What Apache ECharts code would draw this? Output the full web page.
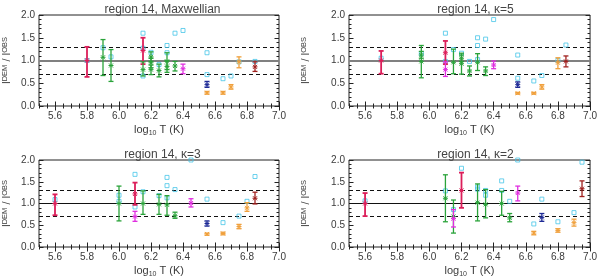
<!DOCTYPE html>
<html>
<head>
<meta charset="utf-8">
<script src="https://cdn.jsdelivr.net/npm/echarts@6/dist/echarts.min.js"></script>
<style>html,body{margin:0;padding:0;background:#fff}#c{width:600px;height:279px}</style>
</head>
<body>
<div id="c"></div>
<script>
// ---------- data ----------
const xTickLabels = [5.6, 5.8, 6.0, 6.2, 6.4, 6.6, 6.8, 7.0];
const yTickLabels = [0.0, 0.5, 1.0, 1.5, 2.0];
const panelTitles = ['region 14, Maxwellian', 'region 14, \u03ba=5', 'region 14, \u03ba=3', 'region 14, \u03ba=2'];

// Maxwellian
const maxT  = [5.8, 5.9, 5.95, 6.15, 6.15, 6.2, 6.2, 6.2, 6.25, 6.3, 6.3, 6.35, 6.4, 6.55, 6.55, 6.65, 6.7, 6.75, 6.85];
const maxV  = [1.00,1.07,0.89,1.22,0.80,1.08,0.95,0.80,0.78,0.98,0.87,0.88,0.82,0.47,0.29,0.29,0.42,0.97,0.86];
const maxLo = [0.64,0.67,0.54,0.92,0.66,0.98,0.84,0.69,0.64,0.80,0.74,0.77,0.71,0.41,0.26,0.26,0.37,0.84,0.76];
const maxHi = [1.30,1.46,1.24,1.50,0.97,1.19,1.05,0.90,0.92,1.17,1.00,0.98,0.92,0.54,0.32,0.32,0.47,1.08,0.97];
const maxC  = ['r','g','g','r','g','g','g','g','g','g','g','g','m','b','o','o','o','o','d'];
const maxSqT = [5.8,5.9,5.95,6.15,6.15,6.15,6.2,6.25,6.3,6.3,6.35,6.4,6.55,6.55,6.65,6.7,6.75,6.85];
const maxSqV = [1.00,1.28,1.08,1.60,1.27,0.66,1.18,0.91,1.33,1.17,1.60,1.66,1.17,0.69,0.60,0.66,0.97,0.98];

// kappa = 5
const k5T  = [5.7,5.95,5.95,6.1,6.1,6.15,6.2,6.2,6.25,6.3,6.35,6.4,6.55,6.55,6.65,6.7,6.8,6.85];
const k5V  = [1.00,0.98,1.12,1.17,0.80,0.96,0.93,1.05,0.77,0.96,0.77,0.90,0.47,0.28,0.28,0.42,0.95,0.98];
const k5Lo = [0.71,0.62,1.05,0.92,0.65,0.71,0.70,0.98,0.66,0.78,0.67,0.82,0.41,0.26,0.26,0.37,0.82,0.86];
const k5Hi = [1.21,1.33,1.20,1.43,0.97,1.25,1.16,1.12,0.88,1.15,0.86,0.99,0.53,0.30,0.30,0.47,1.06,1.10];
const k5C  = ['r','g','g','r','m','g','g','g','g','g','g','m','b','o','o','o','o','d'];
const k5SqT = [5.7,5.95,6.1,6.1,6.15,6.2,6.25,6.3,6.3,6.3,6.35,6.4,6.55,6.55,6.65,6.7,6.8,6.85];
const k5SqV = [1.05,1.15,1.60,0.98,1.24,1.16,0.98,1.50,1.33,1.02,1.47,1.90,1.12,0.61,0.55,0.67,1.00,1.34];

// kappa = 3
const k3T  = [5.6,6.0,6.1,6.1,6.15,6.25,6.3,6.35,6.45,6.55,6.55,6.65,6.75,6.8,6.85];
const k3V  = [1.00,1.00,1.22,0.70,1.00,0.98,0.97,0.72,1.01,0.54,0.30,0.31,0.47,0.90,1.12];
const k3Lo = [0.73,0.60,0.97,0.59,0.75,0.75,0.73,0.66,0.92,0.48,0.27,0.28,0.42,0.82,0.99];
const k3Hi = [1.21,1.40,1.48,0.82,1.29,1.21,1.18,0.80,1.11,0.60,0.32,0.34,0.52,1.02,1.26];
const k3C  = ['r','g','r','m','g','g','g','g','m','b','o','o','o','o','d'];
const k3SqT = [5.6,6.0,6.0,6.1,6.1,6.15,6.25,6.3,6.3,6.3,6.35,6.45,6.55,6.65,6.75,6.8,6.85];
const k3SqV = [1.09,1.19,1.05,1.67,0.92,1.27,1.18,1.60,1.41,1.13,1.32,2.00,1.10,0.56,0.71,1.05,1.62];

// kappa = 2
const k2T  = [5.6,6.1,6.15,6.15,6.2,6.3,6.35,6.45,6.5,6.55,6.65,6.7,6.8,6.9,6.95];
const k2V  = [1.00,1.12,0.70,0.65,1.30,1.02,0.98,1.00,0.67,1.24,0.32,0.68,0.38,0.56,1.34];
const k2Lo = [0.71,0.58,0.32,0.46,0.90,0.60,0.67,0.73,0.58,1.06,0.28,0.59,0.34,0.48,1.16];
const k2Hi = [1.24,1.66,1.08,0.86,1.71,1.45,1.32,1.28,0.77,1.40,0.36,0.77,0.42,0.64,1.52];
const k2C  = ['r','g','g','m','r','g','g','g','g','m','o','b','o','o','d'];
const k2SqT = [5.6,6.1,6.15,6.2,6.3,6.3,6.35,6.35,6.45,6.45,6.5,6.55,6.65,6.7,6.8,6.9,6.95];
const k2SqV = [1.06,1.29,0.86,1.81,1.38,1.33,1.30,1.19,1.52,1.30,1.05,2.00,0.53,1.10,0.58,0.79,1.95];

// ---------- styling / layout ----------
const COLORS = {r:'#dc1e5a', g:'#2aa33a', m:'#e02ee0', b:'#1e2a96', o:'#f0a03c', d:'#a0201e'};
const SQ = '#46c6e8';
const FONT = 'Liberation Sans, Arial, sans-serif';
const TXT = '#3a3a3a';

const panels = [
  {T:maxT, V:maxV, Lo:maxLo, Hi:maxHi, C:maxC, SqT:maxSqT, SqV:maxSqV},
  {T:k5T, V:k5V, Lo:k5Lo, Hi:k5Hi, C:k5C, SqT:k5SqT, SqV:k5SqV},
  {T:k3T, V:k3V, Lo:k3Lo, Hi:k3Hi, C:k3C, SqT:k3SqT, SqV:k3SqV},
  {T:k2T, V:k2V, Lo:k2Lo, Hi:k2Hi, C:k2C, SqT:k2SqT, SqV:k2SqV}
];
const layout = [
  {left:36,  top:15,  nameGap:27, oneColor:'#808080', oneWidth:2},
  {left:349, top:15,  nameGap:38, oneColor:'#808080', oneWidth:2},
  {left:36,  top:160, nameGap:27, oneColor:'#111', oneWidth:1.2},
  {left:349, top:160, nameGap:38, oneColor:'#111', oneWidth:1.2}
];
const GW = 243, GH = 91;

const xMinor = []; for (let i = 0; i <= 30; i++) xMinor.push(Math.round((5.5 + 0.05 * i) * 100) / 100);
const yMinor = []; for (let i = 0; i <= 20; i++) yMinor.push(Math.round(0.1 * i * 10) / 10);

const grids = [], xAxes = [], yAxes = [], series = [], titles = [];

layout.forEach((L, g) => {
  grids.push({left:L.left, top:L.top, width:GW, height:GH, show:true, borderColor:'#222', borderWidth:1, backgroundColor:'transparent'});
  titles.push({text:panelTitles[g], left:L.left + GW/2, top:L.top - 16, textAlign:'center',
    textStyle:{fontFamily:FONT, fontSize:12, fontWeight:'normal', color:'#444'}});
  const baseX = {type:'value', gridIndex:g, min:5.5, max:7.0, splitLine:{show:false}, axisLine:{show:false}};
  const baseY = {type:'value', gridIndex:g, min:0, max:2, splitLine:{show:false}, axisLine:{show:false}};
  xAxes.push(Object.assign({}, baseX, {position:'bottom',
    axisTick:{show:true, inside:true, length:4.5, customValues:xTickLabels, lineStyle:{color:'#222'}},
    axisLabel:{show:true, customValues:xTickLabels, formatter:v => v.toFixed(1), margin:5, fontFamily:FONT, fontSize:10, color:TXT},
    name:'{n|log}{s|10}{n| T (K)}', nameLocation:'middle', nameGap:18,
    nameTextStyle:{rich:{n:{fontFamily:FONT, fontSize:11, color:TXT, verticalAlign:'bottom'}, s:{fontFamily:FONT, fontSize:7, color:TXT, verticalAlign:'bottom', padding:[0,0,-2,0]}}}
  }));
  xAxes.push(Object.assign({}, baseX, {position:'bottom', axisTick:{show:true, inside:true, length:2.5, customValues:xMinor, lineStyle:{color:'#222'}}, axisLabel:{show:false}}));
  xAxes.push(Object.assign({}, baseX, {position:'top', axisTick:{show:true, inside:true, length:4.5, customValues:xTickLabels, lineStyle:{color:'#222'}}, axisLabel:{show:false}}));
  xAxes.push(Object.assign({}, baseX, {position:'top', axisTick:{show:true, inside:true, length:2.5, customValues:xMinor, lineStyle:{color:'#222'}}, axisLabel:{show:false}}));
  yAxes.push(Object.assign({}, baseY, {position:'left',
    axisTick:{show:true, inside:true, length:4.5, customValues:yTickLabels, lineStyle:{color:'#222'}},
    axisLabel:{show:true, customValues:yTickLabels, formatter:v => v.toFixed(1), margin:4, fontFamily:FONT, fontSize:10, color:TXT},
    name:'{i|I}{s|DEM}{n| / }{i|I}{s|OBS}', nameLocation:'middle', nameGap:L.nameGap, nameRotate:90,
    nameTextStyle:{rich:{i:{fontFamily:FONT, fontSize:10, color:TXT, verticalAlign:'bottom'}, n:{fontFamily:FONT, fontSize:11, color:TXT, verticalAlign:'bottom'}, s:{fontFamily:FONT, fontSize:7.5, color:TXT, verticalAlign:'top'}}}
  }));
  yAxes.push(Object.assign({}, baseY, {position:'left', axisTick:{show:true, inside:true, length:2.5, customValues:yMinor, lineStyle:{color:'#222'}}, axisLabel:{show:false}}));
  yAxes.push(Object.assign({}, baseY, {position:'right', axisTick:{show:true, inside:true, length:4.5, customValues:yTickLabels, lineStyle:{color:'#222'}}, axisLabel:{show:false}}));
  yAxes.push(Object.assign({}, baseY, {position:'right', axisTick:{show:true, inside:true, length:2.5, customValues:yMinor, lineStyle:{color:'#222'}}, axisLabel:{show:false}}));

  const P = panels[g];
  const xi = 4 * g, yi = 4 * g;
  series.push({
    type:'scatter', xAxisIndex:xi, yAxisIndex:yi, symbol:'rect', symbolSize:4, clip:false, silent:true, z:2,
    itemStyle:{color:'rgba(255,255,255,0)', borderColor:SQ, borderWidth:1},
    data:P.SqT.map((t, i) => [t, P.SqV[i]]),
    markLine:{silent:true, symbol:['none','none'], label:{show:false}, animation:false, z:1,
      data:[
        {yAxis:1.0, lineStyle:{color:L.oneColor, width:L.oneWidth, type:'solid'}},
        {yAxis:1.3, lineStyle:{color:'#111', width:1, type:[4,3]}},
        {yAxis:0.7, lineStyle:{color:'#111', width:1, type:[4,3]}}
      ]}
  });
  series.push({
    type:'custom', xAxisIndex:xi, yAxisIndex:yi, z:3, silent:true, clip:false,
    encode:{x:0, y:[1,2,3]},
    data:P.T.map((t, i) => ({value:[t, P.V[i], P.Lo[i], P.Hi[i]], itemStyle:{color:COLORS[P.C[i]]}})),
    renderItem:(params, api) => {
      const x = api.value(0), v = api.value(1), lo = api.value(2), hi = api.value(3);
      const c = api.visual('color');
      const lw = P.C[params.dataIndex] === 'r' ? 1.8 : 1.3;
      const top = api.coord([x, hi]), bot = api.coord([x, lo]), mid = api.coord([x, v]);
      const w = 2.5, m = 2;
      const st = {stroke:c, lineWidth:lw};
      const ln = (x1, y1, x2, y2, s) => ({type:'line', shape:{x1, y1, x2, y2}, style:s || st});
      return {type:'group', children:[
        ln(top[0], top[1], bot[0], bot[1]),
        ln(top[0]-w, top[1], top[0]+w, top[1]),
        ln(bot[0]-w, bot[1], bot[0]+w, bot[1]),
        ln(mid[0]-m, mid[1]-m, mid[0]+m, mid[1]+m, {stroke:c, lineWidth:1}),
        ln(mid[0]-m, mid[1]+m, mid[0]+m, mid[1]-m, {stroke:c, lineWidth:1}),
        ln(mid[0]-m-0.5, mid[1], mid[0]+m+0.5, mid[1], {stroke:c, lineWidth:1})
      ]};
    }
  });
});

const chart = echarts.init(document.getElementById('c'), null, {renderer:'canvas'});
chart.setOption({
  animation:false,
  backgroundColor:'#fff',
  title:titles,
  grid:grids,
  xAxis:xAxes,
  yAxis:yAxes,
  series:series
});
</script>
</body>
</html>
